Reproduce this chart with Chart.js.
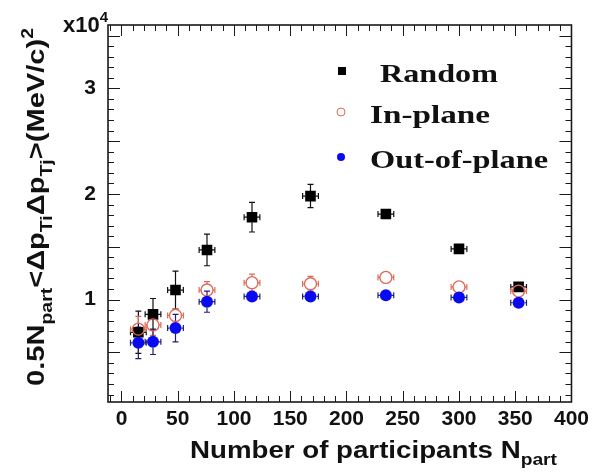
<!DOCTYPE html>
<html>
<head>
<meta charset="utf-8">
<script src="https://cdn.jsdelivr.net/npm/chart.js@4.4.0/dist/chart.umd.min.js"></script>
<style>
  html, body { margin: 0; padding: 0; background: #ffffff; }
  #c { display: block; }
</style>
</head>
<body>
<canvas id="c" width="594" height="475"></canvas>
<script>
// Number of participants per centrality bin
const nPart = [15, 28, 48, 76, 116, 168, 235, 300, 353];
const nPartErr = [7, 7, 7, 7, 7, 7, 7, 7, 7];

// 0.5 Npart <dpT dpT> in units of 1e4 (MeV/c)^2
const randomVals = [0.69, 0.86, 1.09, 1.47, 1.78, 1.98, 1.81, 1.48, 1.12];
const randomErr  = [0.20, 0.15, 0.18, 0.15, 0.14, 0.11, 0.04, 0.03, 0.03];

const inPlaneVals = [0.72, 0.76, 0.85, 1.09, 1.16, 1.15, 1.21, 1.12, 1.08];
const inPlaneErr  = [0.12, 0.10, 0.06, 0.08, 0.08, 0.07, 0.03, 0.03, 0.03];

const outPlaneVals = [0.59, 0.60, 0.73, 0.98, 1.03, 1.03, 1.04, 1.02, 0.97];
const outPlaneErr  = [0.15, 0.12, 0.13, 0.10, 0.04, 0.03, 0.02, 0.02, 0.02];

const seriesNames = ['Random', 'In-plane', 'Out-of-plane'];

const xTickValues = [0, 50, 100, 150, 200, 250, 300, 350, 400];
const yTickValues = [1, 2, 3];

const SANS = '"Liberation Sans", Arial, Helvetica, sans-serif';
const SERIF = '"Liberation Serif", "Times New Roman", serif';
const RED = '#e06a5a';
const BLUE = '#0a0af0';

function points(vals) {
  return vals.map((v, i) => ({ x: nPart[i], y: v }));
}

// gap = half size of the marker, bars are drawn outside it
const errorSets = [
  { vals: randomVals, err: randomErr, color: '#111111', gap: 5 },
  { vals: inPlaneVals, err: inPlaneErr, color: RED, gap: 6 },
  { vals: outPlaneVals, err: outPlaneErr, color: '#222266', gap: 6 }
];

// error bars (vertical and horizontal, with short end caps)
const errorBars = {
  id: 'errorBars',
  beforeDatasetsDraw(chart) {
    const { ctx, scales: { x, y } } = chart;
    ctx.save();
    ctx.lineWidth = 1.2;
    errorSets.forEach(set => {
      ctx.strokeStyle = set.color;
      const g = set.gap;
      set.vals.forEach((v, i) => {
        const px = x.getPixelForValue(nPart[i]);
        const py = y.getPixelForValue(v);
        const y1 = y.getPixelForValue(v + set.err[i]);
        const y2 = y.getPixelForValue(v - set.err[i]);
        const x1 = x.getPixelForValue(nPart[i] - nPartErr[i]);
        const x2 = x.getPixelForValue(nPart[i] + nPartErr[i]);
        ctx.beginPath();
        if (py - y1 > g) {
          ctx.moveTo(px, y1); ctx.lineTo(px, py - g);
          ctx.moveTo(px - 3, y1); ctx.lineTo(px + 3, y1);
        }
        if (y2 - py > g) {
          ctx.moveTo(px, py + g); ctx.lineTo(px, y2);
          ctx.moveTo(px - 3, y2); ctx.lineTo(px + 3, y2);
        }
        if (px - x1 > g) {
          ctx.moveTo(x1, py); ctx.lineTo(px - g, py);
          ctx.moveTo(x1, py - 3); ctx.lineTo(x1, py + 3);
          ctx.moveTo(px + g, py); ctx.lineTo(x2, py);
          ctx.moveTo(x2, py - 3); ctx.lineTo(x2, py + 3);
        }
        ctx.stroke();
      });
    });
    ctx.restore();
  }
};

// frame with inward ticks on all four sides
const frameTicks = {
  id: 'frameTicks',
  afterDatasetsDraw(chart) {
    const { ctx, chartArea: a, scales: { x, y } } = chart;
    ctx.save();
    ctx.strokeStyle = '#1a1a1a';
    ctx.lineWidth = 1;
    ctx.beginPath();
    for (let v = -10; v <= 400; v += 10) {
      const px = Math.round(x.getPixelForValue(v)) + 0.5;
      if (px < a.left) continue;
      const L = v % 50 === 0 ? 11 : 6;
      ctx.moveTo(px, a.bottom); ctx.lineTo(px, a.bottom - L);
      ctx.moveTo(px, a.top); ctx.lineTo(px, a.top + L);
    }
    for (let i = 1; i <= 35; i++) {
      const v = i / 10;
      const py = Math.round(y.getPixelForValue(v)) + 0.5;
      const L = i % 5 === 0 ? 12 : 6;
      ctx.moveTo(a.left, py); ctx.lineTo(a.left + L, py);
      ctx.moveTo(a.right, py); ctx.lineTo(a.right - L, py);
    }
    ctx.stroke();
    ctx.lineWidth = 1.6;
    ctx.strokeRect(a.left, a.top, a.right - a.left, a.bottom - a.top);
    ctx.restore();
  }
};

function partFont(p, size, family) {
  const s = (p.sub || p.sup) ? Math.round(size * 0.68) : size;
  return 'bold ' + s + 'px ' + family;
}
function richWidth(ctx, parts, size, family) {
  let w = 0;
  parts.forEach(p => { ctx.font = partFont(p, size, family); w += ctx.measureText(p.t).width; });
  return w;
}
function drawRich(ctx, parts, size, family) {
  let xx = 0;
  parts.forEach(p => {
    ctx.font = partFont(p, size, family);
    const dy = p.sub ? size * 0.32 : (p.sup ? -size * 0.45 : 0);
    ctx.fillText(p.t, xx, dy);
    xx += ctx.measureText(p.t).width;
  });
}

const titles = {
  id: 'titles',
  afterDraw(chart) {
    const { ctx } = chart;
    ctx.save();
    ctx.fillStyle = '#111111';
    ctx.textBaseline = 'alphabetic';
    ctx.textAlign = 'left';

    // exponent marker
    ctx.save();
    ctx.translate(63, 32);
    drawRich(ctx, [{ t: 'x10' }, { t: '4', sup: true }], 22, SANS);
    ctx.restore();

    // x axis title
    const xParts = [{ t: 'Number of participants N' }, { t: 'part', sub: true }];
    ctx.save();
    ctx.translate(190, 458);
    ctx.scale(367 / richWidth(ctx, xParts, 23, SANS), 1);
    drawRich(ctx, xParts, 23, SANS);
    ctx.restore();

    // y axis title
    const yParts = [
      { t: '0.5N' }, { t: 'part', sub: true },
      { t: '<\u0394p' }, { t: 'Ti', sub: true },
      { t: '\u0394p' }, { t: 'Tj', sub: true },
      { t: '>(MeV/c)' }, { t: '2', sup: true }
    ];
    ctx.save();
    ctx.translate(44, 386);
    ctx.rotate(-Math.PI / 2);
    ctx.scale(358 / richWidth(ctx, yParts, 24, SANS), 1);
    drawRich(ctx, yParts, 24, SANS);
    ctx.restore();

    // legend
    const rows = [
      { mx: 342, my: 71, tx: 380, ty: 82, w: 118 },
      { mx: 341, my: 112, tx: 370, ty: 123, w: 120 },
      { mx: 341, my: 157, tx: 370, ty: 168, w: 178 }
    ];
    chart.data.datasets.forEach((ds, i) => {
      const r = rows[i];
      ctx.save();
      if (ds.pointStyle === 'rect') {
        ctx.fillStyle = ds.backgroundColor;
        ctx.fillRect(r.mx - 4, r.my - 4, 8, 8);
      } else {
        ctx.beginPath();
        ctx.arc(r.mx, r.my, 4, 0, Math.PI * 2);
        if (ds.backgroundColor !== 'rgba(0,0,0,0)') {
          ctx.fillStyle = ds.backgroundColor; ctx.fill();
        } else {
          ctx.strokeStyle = ds.borderColor; ctx.lineWidth = 1; ctx.stroke();
        }
      }
      ctx.restore();
      ctx.save();
      ctx.fillStyle = '#111111';
      ctx.font = 'bold 26px ' + SERIF;
      ctx.translate(r.tx, r.ty);
      ctx.scale(r.w / ctx.measureText(ds.label).width, 1);
      ctx.fillText(ds.label, 0, 0);
      ctx.restore();
    });
    ctx.restore();
  }
};

new Chart(document.getElementById('c'), {
  type: 'scatter',
  data: {
    datasets: [
      {
        label: seriesNames[0], data: points(randomVals),
        pointStyle: 'rect', pointRadius: 7.5, pointHoverRadius: 7.5,
        backgroundColor: '#000000', borderColor: '#000000', borderWidth: 0, order: 3
      },
      {
        label: seriesNames[1], data: points(inPlaneVals),
        pointStyle: 'circle', pointRadius: 6, pointHoverRadius: 6,
        backgroundColor: 'rgba(0,0,0,0)', borderColor: RED, borderWidth: 1.4, order: 2
      },
      {
        label: seriesNames[2], data: points(outPlaneVals),
        pointStyle: 'circle', pointRadius: 6, pointHoverRadius: 6,
        backgroundColor: BLUE, borderColor: BLUE, borderWidth: 0, order: 1
      }
    ]
  },
  options: {
    responsive: false,
    animation: false,
    devicePixelRatio: 1,
    layout: { padding: { top: 25, right: 21, left: 0, bottom: 0 } },
    plugins: { legend: { display: false }, tooltip: { enabled: false } },
    scales: {
      x: {
        type: 'linear', min: -12, max: 400,
        grid: { display: false, drawTicks: false }, border: { display: false },
        afterBuildTicks: s => { s.ticks = xTickValues.map(v => ({ value: v })); },
        afterFit: s => { s.height = 73; },
        ticks: { padding: 5, color: '#111111', maxRotation: 0, autoSkip: false,
                 font: { family: SANS, size: 21, weight: 'bold' } }
      },
      y: {
        type: 'linear', min: 0.03, max: 3.6,
        grid: { display: false, drawTicks: false }, border: { display: false },
        afterBuildTicks: s => { s.ticks = yTickValues.map(v => ({ value: v })); },
        afterFit: s => { s.width = 108; },
        ticks: { padding: 12, color: '#111111',
                 font: { family: SANS, size: 21, weight: 'bold' } }
      }
    }
  },
  plugins: [errorBars, frameTicks, titles]
});
</script>
</body>
</html>
